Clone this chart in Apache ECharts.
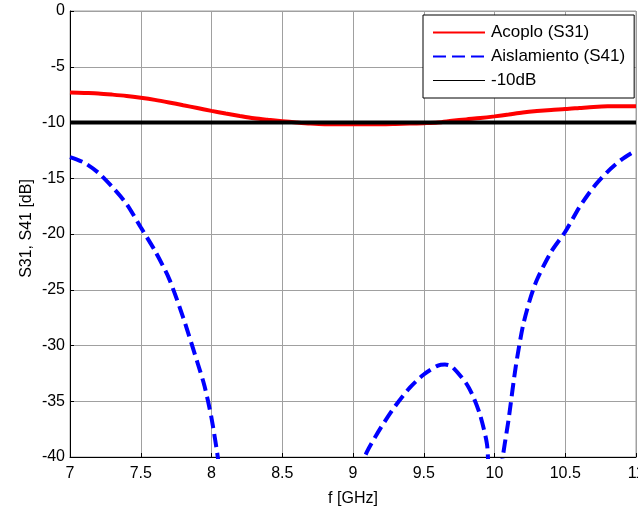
<!DOCTYPE html>
<html>
<head>
<meta charset="utf-8">
<script src="https://cdn.jsdelivr.net/npm/echarts@6/dist/echarts.min.js"></script>
<style>html,body{margin:0;padding:0;background:#fff}#c{width:638px;height:506px}</style>
</head>
<body>
<div id="c"></div>
<script>
// Acoplo (S31)
var freqS31 = [7.0,7.1,7.2,7.3,7.4,7.5,7.6,7.7,7.8,7.9,8.0,8.1,8.2,8.3,8.4,8.5,8.6,8.7,8.8,8.9,9.0,9.1,9.2,9.3,9.4,9.5,9.6,9.7,9.8,9.9,10.0,10.1,10.2,10.3,10.4,10.5,10.6,10.7,10.8,10.9,11.0];
var s31 = [-7.3,-7.35,-7.4,-7.5,-7.62,-7.78,-7.97,-8.2,-8.45,-8.7,-8.96,-9.2,-9.42,-9.62,-9.76,-9.88,-10.0,-10.1,-10.15,-10.15,-10.15,-10.15,-10.15,-10.13,-10.1,-10.06,-10.0,-9.85,-9.72,-9.6,-9.45,-9.28,-9.1,-8.97,-8.87,-8.8,-8.7,-8.6,-8.55,-8.55,-8.55];
// Aislamiento (S41)
var freqS41 = [7.0,7.1,7.2,7.3,7.4,7.5,7.6,7.7,7.8,7.9,7.95,8.0,8.05,8.1,8.2,8.6,8.95,9.05,9.1,9.2,9.3,9.4,9.5,9.6,9.65,9.7,9.8,9.85,9.9,9.95,10.0,10.05,10.1,10.15,10.2,10.25,10.3,10.4,10.5,10.6,10.7,10.8,10.9,11.0];
var s41 = [-13.1,-13.6,-14.5,-15.8,-17.3,-19.4,-21.5,-24.0,-27.5,-31.5,-33.6,-36.5,-40.5,-46,-55,-60,-50,-41.2,-39.5,-37.3,-35.4,-33.8,-32.6,-31.8,-31.7,-31.9,-33.4,-34.6,-36.3,-39.2,-55,-41,-36.6,-31.9,-28.3,-25.9,-24.1,-21.6,-19.8,-17.6,-15.8,-14.4,-13.3,-12.5];
// -10dB reference
var freqRef = [7, 11];
var ref = [-10, -10];

var seriesNames = ['Acoplo (S31)', 'Aislamiento (S41)', '-10dB'];

function pairs(xs, ys){ return xs.map(function(x,i){ return [x, ys[i]]; }); }

var FONT = "'Liberation Sans', Arial, sans-serif";
var chart = echarts.init(document.getElementById('c'), null, {renderer:'canvas'});
chart.setOption({
  animation: false,
  backgroundColor: '#fff',
  textStyle: {fontFamily: FONT},
  grid: {left: 70, right: 2, top: 11, bottom: 49, show: true, borderColor: '#a0a0a0', borderWidth: 1,
         containLabel: false, outerBoundsMode: 'none'},
  legend: {
    orient: 'vertical',
    left: 423, top: 15,
    backgroundColor: '#fff',
    borderColor: '#000', borderWidth: 1,
    padding: [9, 9, 9, 9],
    itemWidth: 52, itemHeight: 14, itemGap: 7,
    itemStyle: {opacity: 0},
    textStyle: {fontFamily: FONT, fontSize: 17, color: '#000', padding: [0,0,0,1]},
    data: [
      {name: seriesNames[0]},
      {name: seriesNames[1]},
      {name: seriesNames[2], lineStyle: {width: 1}}
    ]
  },
  xAxis: {
    type: 'value', min: 7, max: 11, interval: 0.5,
    name: 'f [GHz]', nameLocation: 'middle', nameGap: 34, nameMoveOverlap: false,
    nameTextStyle: {fontFamily: FONT, fontSize: 16, color: '#000'},
    axisLine: {show: true, onZero: false, lineStyle: {color: '#000', width: 1}},
    axisTick: {show: true, inside: true, length: 4, lineStyle: {color: '#000'}},
    axisLabel: {fontFamily: FONT, fontSize: 16, color: '#000', margin: 9, showMaxLabel: true, showMinLabel: true},
    splitLine: {show: true, lineStyle: {color: '#a0a0a0', width: 1}}
  },
  yAxis: {
    type: 'value', min: -40, max: 0, interval: 5,
    name: 'S31, S41 [dB]', nameLocation: 'middle', nameGap: 35, nameMoveOverlap: false,
    nameTextStyle: {fontFamily: FONT, fontSize: 16, color: '#000', padding: [0,0,0,11]},
    axisLine: {show: true, onZero: false, lineStyle: {color: '#000', width: 1}},
    axisTick: {show: true, inside: true, length: 4, lineStyle: {color: '#000'}},
    axisLabel: {fontFamily: FONT, fontSize: 16, color: '#000', margin: 5},
    splitLine: {show: true, lineStyle: {color: '#a0a0a0', width: 1}}
  },
  series: [
    {name: seriesNames[0], type: 'line', data: pairs(freqS31, s31), showSymbol: false, symbol: 'none', smooth: 0.3, clip: true,
     lineStyle: {color: '#ff0000', width: 4}, itemStyle: {color: '#ff0000'}, z: 2},
    {name: seriesNames[1], type: 'line', data: pairs(freqS41, s41), showSymbol: false, symbol: 'none', smooth: 0.25, clip: true,
     lineStyle: {color: '#0000ff', width: 4, type: [13, 6]}, itemStyle: {color: '#0000ff'}, z: 2},
    {name: seriesNames[2], type: 'line', data: pairs(freqRef, ref), showSymbol: false, symbol: 'none', clip: true,
     lineStyle: {color: '#000000', width: 4}, itemStyle: {color: '#000000'}, z: 3}
  ]
});
</script>
</body>
</html>
